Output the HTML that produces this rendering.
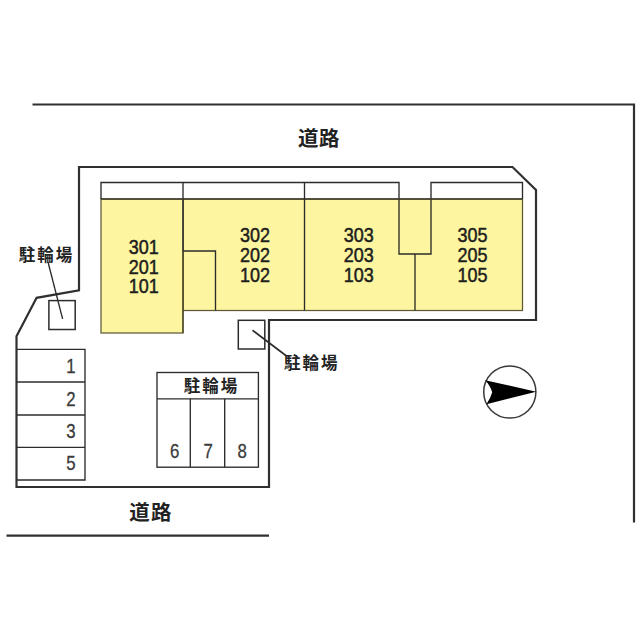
<!DOCTYPE html>
<html lang="ja">
<head>
<meta charset="utf-8">
<title>配置図</title>
<style>
html,body{margin:0;padding:0;background:#fff;}
body{width:640px;height:640px;overflow:hidden;}
svg{display:block;}
.num{font-family:"Liberation Sans","Noto Sans CJK JP",sans-serif;font-size:20px;fill:#1e1e1e;stroke:#1e1e1e;stroke-width:0.5;}
.pk{font-family:"Liberation Sans","Noto Sans CJK JP",sans-serif;font-size:20px;fill:#3a3a3a;stroke:#3a3a3a;stroke-width:0.3;}
.jp{font-family:"Liberation Sans","Noto Sans CJK JP",sans-serif;font-size:16.5px;font-weight:700;fill:#222;}
.road{font-family:"Liberation Sans","Noto Sans CJK JP",sans-serif;font-size:20.5px;font-weight:700;fill:#222;}
</style>
</head>
<body>
<svg width="640" height="640" viewBox="0 0 640 640">
<rect width="640" height="640" fill="#fff"/>

<!-- roads -->
<g fill="none" stroke="#303030" stroke-width="2.2" stroke-linejoin="miter">
<polyline points="32.5,104.5 634,104.5 634,522.5"/>
<line x1="6.5" y1="535.7" x2="269" y2="535.7"/>
<!-- site boundary -->
<polygon points="79,167 512.5,167 536,190 536,320 269,320 269,487 16.5,487 16.5,336.3 36.6,297.8 79,290.3"/>
</g>

<!-- building fill -->
<g fill="#fdf5a0" stroke="#5e5a36" stroke-width="1.25">
<rect x="183" y="199" width="339.5" height="111.5"/>
<rect x="101" y="199" width="82" height="134"/>
</g>

<!-- building lines -->
<g fill="none" stroke="#2c2c2c" stroke-width="1.35">
<polyline points="101,199 101,182.5 399,182.5 399,254 431,254 431,182.5 522.5,182.5 522.5,199"/>
<line x1="183" y1="182.5" x2="183" y2="251"/>
<line x1="183" y1="251" x2="183" y2="333" stroke="#4a4628"/>
<line x1="101" y1="199" x2="522.5" y2="199" stroke="#3c3a28"/>
<line x1="304.5" y1="182.5" x2="304.5" y2="310.5"/>
<line x1="415" y1="254" x2="415" y2="310.5"/>
<polyline points="183,251 215.5,251 215.5,310.5"/>
<!-- car parking -->
<polyline points="16.5,349.4 85,349.4 85,480 16.5,480"/>
<line x1="16.5" y1="382" x2="85" y2="382"/>
<line x1="16.5" y1="415" x2="85" y2="415"/>
<line x1="16.5" y1="447.3" x2="85" y2="447.3"/>
<!-- bike parking box -->
<rect x="157" y="372.5" width="101.4" height="94.7"/>
<line x1="157" y1="398.8" x2="258.4" y2="398.8"/>
<line x1="190.3" y1="398.8" x2="190.3" y2="467.2"/>
<line x1="224.7" y1="398.8" x2="224.7" y2="467.2"/>
<!-- small squares -->
<rect x="48.9" y="300.6" width="26.3" height="28.9" stroke-width="1.5"/>
<rect x="238.3" y="320.3" width="26.5" height="28.7" stroke-width="1.5"/>
<!-- leaders -->
<line x1="48" y1="262" x2="62.6" y2="318.8" stroke-width="1.35"/>
<line x1="252.5" y1="330.3" x2="286.5" y2="356" stroke-width="1.7"/>
</g>

<!-- compass -->
<circle cx="509.8" cy="392" r="26.1" fill="#fff" stroke="#383838" stroke-width="1.5"/>
<path d="M536.2,391.7 L485.2,380.2 Q490.5,386 492.2,392.3 Q490.5,398.5 486.4,404.2 Z" fill="#000"/>

<!-- room numbers -->
<g class="num" text-anchor="middle">
<text transform="translate(143.8,253.6) scale(0.9,1)">301</text>
<text transform="translate(143.8,273.9) scale(0.9,1)">201</text>
<text transform="translate(143.8,293.4) scale(0.9,1)">101</text>
<text transform="translate(255.1,242.0) scale(0.9,1)">302</text>
<text transform="translate(255.1,262.3) scale(0.9,1)">202</text>
<text transform="translate(255.1,282.0) scale(0.9,1)">102</text>
<text transform="translate(358.7,242.0) scale(0.9,1)">303</text>
<text transform="translate(358.7,262.3) scale(0.9,1)">203</text>
<text transform="translate(358.7,282.0) scale(0.9,1)">103</text>
<text transform="translate(472.6,242.0) scale(0.9,1)">305</text>
<text transform="translate(472.6,262.3) scale(0.9,1)">205</text>
<text transform="translate(472.6,282.0) scale(0.9,1)">105</text>
</g>

<!-- parking numbers -->
<g class="pk" text-anchor="middle">
<text transform="translate(70.9,372.8) scale(0.84,1)">1</text>
<text transform="translate(70.9,405.6) scale(0.84,1)">2</text>
<text transform="translate(70.9,437.9) scale(0.84,1)">3</text>
<text transform="translate(70.9,470.0) scale(0.84,1)">5</text>
<text transform="translate(174.6,458.2) scale(0.84,1)">6</text>
<text transform="translate(208.2,458.2) scale(0.84,1)">7</text>
<text transform="translate(242.2,458.2) scale(0.84,1)">8</text>
</g>

<!-- labels -->
<text class="jp" x="18.8" y="260.8" letter-spacing="2">駐輪場</text>
<text class="jp" x="284" y="369.4" letter-spacing="2">駐輪場</text>
<text class="jp" x="183.8" y="392.1" letter-spacing="2">駐輪場</text>
<text class="road" x="298" y="145.6" letter-spacing="0.6">道路</text>
<text class="road" x="129.2" y="519.5" letter-spacing="1.2">道路</text>
</svg>
</body>
</html>
